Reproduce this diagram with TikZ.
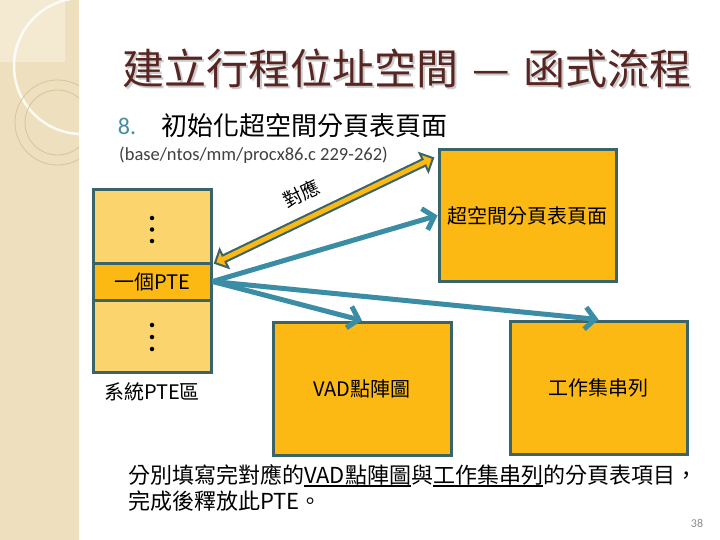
\documentclass[tikz,border=0pt]{standalone}
\usepackage{fontspec}
\newfontfamily\cjk{Noto Sans CJK TC}
\newfontfamily\calfont{Carlito}
\usetikzlibrary{arrows.meta,calc}
\definecolor{boxorange}{RGB}{253,185,19}
\definecolor{boxlight}{RGB}{252,212,110}
\definecolor{boxborder}{RGB}{58,100,104}
\definecolor{arrowteal}{RGB}{58,141,164}
\definecolor{titlebrown}{RGB}{88,38,34}
\definecolor{numteal}{RGB}{74,141,158}
\definecolor{stripbg}{RGB}{238,224,190}
\definecolor{stripl}{RGB}{244,234,210}
\definecolor{circc}{RGB}{214,196,158}
\newcommand\myul[1]{\setbox0=\hbox{#1}\rlap{\rule[-4pt]{\wd0}{1.6pt}}\box0}
\tikzset{
  txt/.style={inner sep=0pt, text=black},
  obox/.style={draw=boxborder, line width=3pt, fill=boxorange, inner sep=0pt, font=\cjk\fontsize{20}{24}\selectfont},
  lbox/.style={draw=boxborder, line width=3pt, fill=boxlight, inner sep=0pt},
  dotn/.style={circle, fill=black, inner sep=0pt, minimum size=4.5pt},
  tarrow/.style={draw=arrowteal, line width=5pt, -{Straight Barb[length=10pt,width=22pt]}},
  dblarrow/.style={fill=boxorange, draw=boxborder, line width=2pt, line join=miter},
}
\begin{document}
\begin{tikzpicture}[x=1pt,y=-1pt,font=\cjk]
\useasboundingbox (0,0) rectangle (720,540);
\fill[white] (0,0) rectangle (720,540);
% left decorative strip
\begin{scope}
  \clip (0,0) rectangle (79,540);
  \fill[stripbg] (0,0) rectangle (79,540);
  \fill[stripl] (0,0) rectangle (65,62);
  \draw[white, line width=2.5pt, opacity=0.85] (82,66) circle[radius=68];
  \draw[circc, line width=0.8pt] (57.5,122.5) circle[radius=42.5];
  \draw[circc, line width=0.8pt] (57.5,122.5) circle[radius=32.5];
\end{scope}
% title (with light shadow)
\node[txt, anchor=west, text=black!20, font=\cjk\fontsize{42}{48}\selectfont] (tshadow) at (124,70) {建立行程位址空間\hspace{14pt}—\hspace{14pt}函式流程};
\node[txt, anchor=west, text=titlebrown, font=\cjk\fontsize{42}{48}\selectfont] (title) at (122,68) {建立行程位址空間\hspace{14pt}—\hspace{14pt}函式流程};
% subtitle
\node[txt, text=numteal, font=\calfont\fontsize{24}{28}\selectfont] (num) at (127,126) {8.};
\node[txt, anchor=west, font=\cjk\fontsize{26}{30}\selectfont] (step8) at (161,126) {初始化超空間分頁表頁面};
\node[txt, anchor=west, text=black!75, font=\calfont\fontsize{18.5}{22}\selectfont] (src) at (119,155) {(base/ntos/mm/procx86.c 229-262)};
% left PTE area
\node[lbox, minimum width=118pt, minimum height=73pt] (upper) at (152,226.5) {};
\node[lbox, minimum width=118pt, minimum height=72pt] (lower) at (152,336) {};
\node[obox, minimum width=118pt, minimum height=37pt] (pte) at (152,281.5) {一個PTE};
\node[dotn] (u1) at (152,218) {};
\node[dotn] (u2) at (152,229.5) {};
\node[dotn] (u3) at (152,241) {};
\node[dotn] (l1) at (152,325) {};
\node[dotn] (l2) at (152,337) {};
\node[dotn] (l3) at (152,349) {};
\node[txt, font=\cjk\fontsize{20}{24}\selectfont] (sysl) at (152,392) {系統PTE區};
% boxes
\node[obox, minimum width=177pt, minimum height=131pt] (sp) at (527.5,215.5) {超空間分頁表頁面};
\node[obox, minimum width=178pt, minimum height=133pt] (vad) at (362,388.5) {VAD點陣圖};
\node[obox, minimum width=177pt, minimum height=133pt] (ws) at (598.5,387.5) {工作集串列};
% correspondence double arrow (block arrow from dA to dB)
\coordinate (dA) at (215,263);
\coordinate (dB) at (433,158);
\begin{scope}[shift={(dA)}, rotate=25.7]
  \path[dblarrow] (0,0) -- (10,-10) -- (10,-3.5) -- (232,-3.5) -- (232,-10) -- (242,0)
    -- (232,10) -- (232,3.5) -- (10,3.5) -- (10,10) -- cycle;
\end{scope}
\node[txt, rotate=25.7, font=\cjk\fontsize{19}{22}\selectfont] (corrl) at (301,194) {對應};
% teal arrows
\draw[tarrow] (pte.east) -- (sp.west);
\draw[tarrow] (pte.east) -- (vad.north);
\draw[tarrow] (pte.east) -- (ws.north);
% bottom note
\node[txt, anchor=base west, font=\cjk\fontsize{22}{26}\selectfont] (note1) at (128,483) {分別填寫完對應的\myul{VAD點陣圖}與\myul{工作集串列}的分頁表項目，};
\node[txt, anchor=base west, font=\cjk\fontsize{22}{26}\selectfont] (note2) at (128,509) {完成後釋放此PTE。};
\node[txt, text=black!45, font=\calfont\fontsize{12}{14}\selectfont] (pg) at (697,523) {38};
\end{tikzpicture}
\end{document}
